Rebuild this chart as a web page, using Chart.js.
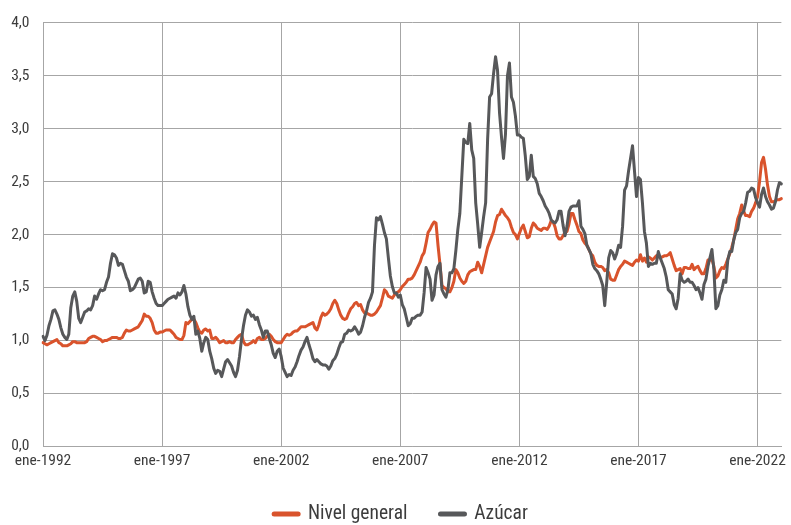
<!DOCTYPE html>
<html>
<head>
<meta charset="utf-8">
<script src="https://cdn.jsdelivr.net/npm/chart.js@4.4.1/dist/chart.umd.min.js"></script>
<style>
  html, body { margin: 0; padding: 0; background: #ffffff; }
  #wrap { width: 791px; height: 525px; }
</style>
</head>
<body>
<div id="wrap"><canvas id="c" width="791" height="525"></canvas></div>
<script>
// ---- Data (monthly, ene-1992 .. ene-2023) ----
const monthNames = ['ene','feb','mar','abr','may','jun','jul','ago','sep','oct','nov','dic'];
const startYear = 1992;
const seriesNames = ['Nivel general', 'Azúcar'];

const nivelGeneral = [
  0.98,0.97,0.96,0.97,0.98,0.99,1.00,1.01,0.98,0.97,0.95,0.95, // 1992
  0.95,0.96,0.97,0.99,0.99,0.98,0.98,0.98,0.98,0.98,0.99,1.02, // 1993
  1.03,1.04,1.04,1.03,1.02,1.01,0.99,1.00,1.00,1.01,1.02,1.03, // 1994
  1.03,1.03,1.02,1.02,1.03,1.07,1.10,1.09,1.09,1.10,1.11,1.12, // 1995
  1.13,1.16,1.19,1.25,1.23,1.23,1.21,1.17,1.10,1.07,1.07,1.08, // 1996
  1.08,1.09,1.10,1.10,1.10,1.08,1.06,1.03,1.02,1.01,1.01,1.05, // 1997
  1.17,1.16,1.18,1.20,1.20,1.17,1.12,1.08,1.07,1.10,1.11,1.09, // 1998
  1.10,1.02,1.02,1.03,1.01,0.98,0.99,1.00,0.98,0.98,0.99,0.98, // 1999
  0.98,1.01,1.03,1.05,1.06,0.99,0.96,0.96,0.97,0.98,1.00,0.98, // 2000
  1.02,1.03,1.01,1.01,1.02,1.04,1.06,1.04,1.01,0.99,0.98,0.98, // 2001
  0.98,1.01,1.04,1.06,1.05,1.06,1.08,1.09,1.09,1.11,1.13,1.13, // 2002
  1.13,1.14,1.15,1.16,1.17,1.12,1.10,1.15,1.22,1.26,1.24,1.25, // 2003
  1.27,1.30,1.35,1.38,1.35,1.29,1.24,1.21,1.20,1.21,1.26,1.30, // 2004
  1.32,1.35,1.36,1.33,1.34,1.29,1.26,1.26,1.25,1.24,1.24,1.25, // 2005
  1.27,1.30,1.33,1.40,1.48,1.46,1.42,1.41,1.40,1.43,1.45,1.46, // 2006
  1.48,1.51,1.53,1.55,1.58,1.58,1.59,1.62,1.66,1.70,1.74,1.80, // 2007
  1.83,1.92,2.02,2.05,2.09,2.12,2.11,1.90,1.72,1.52,1.50,1.49, // 2008
  1.46,1.46,1.50,1.56,1.67,1.64,1.59,1.56,1.54,1.56,1.62,1.65, // 2009
  1.66,1.67,1.67,1.74,1.70,1.64,1.72,1.80,1.88,1.93,1.98,2.03, // 2010
  2.12,2.18,2.19,2.24,2.21,2.18,2.16,2.13,2.07,2.02,2.00,1.96, // 2011
  2.01,2.06,2.09,2.03,1.97,1.98,2.06,2.11,2.09,2.06,2.05,2.04, // 2012
  2.06,2.06,2.05,2.08,2.13,2.12,2.07,1.99,1.96,1.96,1.99,2.02, // 2013
  2.03,2.10,2.20,2.20,2.14,2.09,2.03,2.01,1.95,1.92,1.90,1.86, // 2014
  1.82,1.80,1.74,1.71,1.70,1.70,1.69,1.66,1.67,1.64,1.58,1.57, // 2015
  1.57,1.62,1.67,1.70,1.72,1.75,1.74,1.73,1.72,1.71,1.74,1.76, // 2016
  1.75,1.81,1.75,1.78,1.74,1.79,1.78,1.76,1.78,1.80,1.81,1.78, // 2017
  1.79,1.80,1.80,1.81,1.83,1.77,1.71,1.66,1.67,1.68,1.63,1.69, // 2018
  1.69,1.68,1.68,1.72,1.67,1.69,1.70,1.66,1.63,1.63,1.68,1.76, // 2019
  1.76,1.77,1.70,1.59,1.61,1.66,1.69,1.68,1.72,1.77,1.82,1.88, // 2020
  1.95,2.05,2.15,2.20,2.28,2.22,2.18,2.18,2.17,2.22,2.25,2.30, // 2021
  2.36,2.50,2.68,2.73,2.62,2.47,2.36,2.31,2.31,2.32,2.33,2.33, // 2022
  2.34                                                          // 2023
];

const azucar = [
  1.04,1.00,1.05,1.14,1.20,1.28,1.29,1.25,1.20,1.12,1.06,1.03, // 1992
  1.01,1.06,1.31,1.42,1.46,1.37,1.21,1.17,1.22,1.27,1.28,1.30, // 1993
  1.29,1.33,1.42,1.39,1.44,1.48,1.47,1.48,1.55,1.60,1.73,1.82, // 1994
  1.81,1.78,1.71,1.73,1.72,1.66,1.60,1.56,1.47,1.48,1.50,1.54, // 1995
  1.58,1.59,1.56,1.45,1.46,1.56,1.55,1.46,1.40,1.35,1.33,1.33, // 1996
  1.33,1.35,1.37,1.39,1.40,1.41,1.42,1.40,1.45,1.43,1.46,1.52, // 1997
  1.44,1.32,1.24,1.20,1.23,1.06,1.09,1.02,0.90,0.98,1.03,1.01, // 1998
  0.90,0.83,0.74,0.69,0.72,0.71,0.66,0.73,0.80,0.82,0.79,0.76, // 1999
  0.70,0.66,0.72,0.85,1.01,1.14,1.24,1.29,1.27,1.23,1.24,1.20, // 2000
  1.22,1.15,1.10,1.03,1.09,1.09,1.02,0.96,0.88,0.84,0.90,0.92, // 2001
  0.85,0.74,0.70,0.66,0.68,0.67,0.72,0.75,0.80,0.86,0.91,0.94, // 2002
  0.99,1.03,0.96,0.90,0.83,0.80,0.82,0.80,0.78,0.77,0.77,0.76, // 2003
  0.73,0.76,0.81,0.83,0.87,0.93,0.98,0.99,1.06,1.07,1.10,1.09, // 2004
  1.10,1.13,1.10,1.06,1.08,1.14,1.22,1.28,1.36,1.40,1.46,1.90, // 2005
  2.16,2.14,2.17,2.10,2.02,1.96,1.78,1.61,1.51,1.45,1.45,1.41, // 2006
  1.43,1.34,1.30,1.22,1.14,1.16,1.21,1.21,1.23,1.24,1.24,1.27, // 2007
  1.45,1.69,1.64,1.58,1.38,1.43,1.62,1.70,1.73,1.48,1.44,1.41, // 2008
  1.48,1.64,1.64,1.68,1.85,2.05,2.20,2.55,2.90,2.87,2.86,3.05, // 2009
  2.80,2.72,2.30,2.10,1.88,2.02,2.17,2.30,2.90,3.30,3.33,3.52, // 2010
  3.68,3.55,3.15,2.92,2.72,2.95,3.50,3.62,3.30,3.25,3.12,2.94, // 2011
  2.94,2.92,2.91,2.74,2.52,2.55,2.75,2.55,2.53,2.48,2.39,2.36, // 2012
  2.32,2.27,2.24,2.20,2.14,2.12,2.11,2.14,2.22,2.22,2.09,1.99, // 2013
  2.08,2.22,2.26,2.27,2.27,2.27,2.32,2.08,2.05,2.01,1.90,1.86, // 2014
  1.82,1.72,1.68,1.66,1.63,1.58,1.52,1.33,1.55,1.78,1.85,1.83, // 2015
  1.77,1.82,1.90,1.88,2.08,2.42,2.46,2.60,2.72,2.84,2.60,2.36, // 2016
  2.54,2.52,2.30,2.03,1.92,1.70,1.73,1.72,1.73,1.73,1.84,1.78, // 2017
  1.73,1.68,1.60,1.48,1.46,1.44,1.34,1.30,1.40,1.63,1.57,1.55, // 2018
  1.56,1.58,1.55,1.55,1.52,1.48,1.50,1.45,1.39,1.53,1.58,1.70, // 2019
  1.78,1.86,1.67,1.30,1.33,1.43,1.48,1.57,1.55,1.76,1.84,1.84, // 2020
  1.95,2.02,2.05,2.16,2.20,2.22,2.30,2.40,2.41,2.44,2.43,2.35, // 2021
  2.30,2.26,2.38,2.44,2.36,2.31,2.28,2.24,2.25,2.31,2.42,2.49, // 2022
  2.48                                                          // 2023
];

// y-axis tick settings
const yTickMin = 0, yTickMax = 4, yTickStep = 0.5;
const xLabelEvery = 60; // one x label every 5 years (ene-XXXX)

// category labels built from month names and years
const categories = nivelGeneral.map((_, i) => monthNames[i % 12] + '-' + (startYear + Math.floor(i / 12)));

// ---- pick a narrow font that is actually installed ----
const probe = document.createElement('canvas').getContext('2d');
function measure(font, s) { probe.font = font; return probe.measureText(s).width; }
function hasFont(fam) {
  const s = 'ene-1992 Nivel general Azúcar 4,0 WMmi';
  return measure('16px monospace', s) !== measure('16px "' + fam + '", monospace', s) ||
         measure('16px serif', s) !== measure('16px "' + fam + '", serif', s);
}
const candidates = ['Liberation Sans Narrow', 'Arial Narrow', 'Roboto Condensed', 'Noto Sans Condensed',
                    'Noto Sans SemiCondensed', 'Open Sans Condensed', 'DejaVu Sans Condensed', 'Liberation Sans'];
let fam = 'sans-serif';
for (const c of candidates) { if (hasFont(c)) { fam = c; break; } }
const FONT = '"' + fam + '", sans-serif';
const clamp = (v, a, b) => Math.max(a, Math.min(b, v));
const tickW = measure('16px ' + FONT, 'ene-2002');
const TICK_SIZE = Math.round(clamp(16 * Math.sqrt(55.4 / tickW), 12, 16) * 2) / 2;
const legW = measure('20px ' + FONT, 'Nivel general');
const LEG_SIZE = Math.round(clamp(20 * Math.sqrt(95 / legW), 15, 20) * 2) / 2;

const GRID = '#a6a6a6';
const TEXT = '#3c3c3c';
const LEG_PAD = 33;
const legItemH = LEG_SIZE;
const legendHeight = 11 + LEG_PAD + legItemH / 2;     // text centre at y = 514
const xAxisHeight = (525 - legendHeight) - 446.5;       // plot bottom at y = 446.5

const legendShift = {
  id: 'legendShift',
  afterLayout(chart) {
    const lg = chart.legend;
    if (!lg || !lg.lineWidths) return;
    const p = lg.options.labels.padding;
    const lw = lg.lineWidths[0];
    const startX = (lg.left + p + lg.right - lw) / 2;
    const centre = startX + (lw - p) / 2;
    const dx = 401 - centre;
    lg.left += dx; lg.right += dx;
  }
};

new Chart(document.getElementById('c'), {
  type: 'line',
  data: {
    labels: categories,
    datasets: [
      {
        label: seriesNames[0],
        data: nivelGeneral,
        borderColor: '#d9532c',
        backgroundColor: '#d9532c',
        borderWidth: 3,
        pointRadius: 0,
        tension: 0,
        borderJoinStyle: 'round',
        borderCapStyle: 'round',
        order: 1
      },
      {
        label: seriesNames[1],
        data: azucar,
        borderColor: '#57585a',
        backgroundColor: '#57585a',
        borderWidth: 3,
        pointRadius: 0,
        tension: 0,
        borderJoinStyle: 'round',
        borderCapStyle: 'round',
        order: 0
      }
    ]
  },
  plugins: [legendShift],
  options: {
    responsive: false,
    animation: false,
    devicePixelRatio: 1,
    layout: { padding: { top: 22.5, right: 6, bottom: 0, left: 3 } },
    plugins: {
      tooltip: { enabled: false },
      legend: {
        position: 'bottom',
        maxHeight: legendHeight,
        labels: {
          font: { family: FONT, size: LEG_SIZE },
          color: TEXT,
          usePointStyle: true,
          pointStyle: 'line',
          pointStyleWidth: 24,
          boxHeight: LEG_SIZE,
          padding: LEG_PAD,
          sort: (a, b) => a.datasetIndex - b.datasetIndex,
          generateLabels: function(chart) {
            const items = Chart.defaults.plugins.legend.labels.generateLabels(chart);
            items.forEach(it => { it.lineWidth = 5; it.lineCap = 'round'; it.pointStyle = 'line'; });
            return items;
          }
        }
      }
    },
    scales: {
      x: {
        type: 'category',
        offset: false,
        grid: { color: GRID, lineWidth: 1, drawTicks: false },
        border: { color: GRID, width: 1 },
        ticks: {
          autoSkip: false,
          maxRotation: 0,
          minRotation: 0,
          padding: 5,
          color: TEXT,
          font: { family: FONT, size: TICK_SIZE },
          callback: function(value, index) {
            return index % xLabelEvery === 0 ? this.getLabelForValue(value) : null;
          }
        },
        afterFit: function(scale) { scale.height = xAxisHeight; }
      },
      y: {
        min: yTickMin,
        max: yTickMax,
        grid: { color: GRID, lineWidth: 1, drawTicks: false },
        border: { color: GRID, width: 1 },
        ticks: {
          stepSize: yTickStep,
          padding: 13.5,
          color: TEXT,
          font: { family: FONT, size: TICK_SIZE },
          callback: function(v) { return Number(v).toFixed(1).replace('.', ','); }
        },
        afterFit: function(scale) { scale.width = 43 - 3; }
      }
    }
  }
});
</script>
</body>
</html>
